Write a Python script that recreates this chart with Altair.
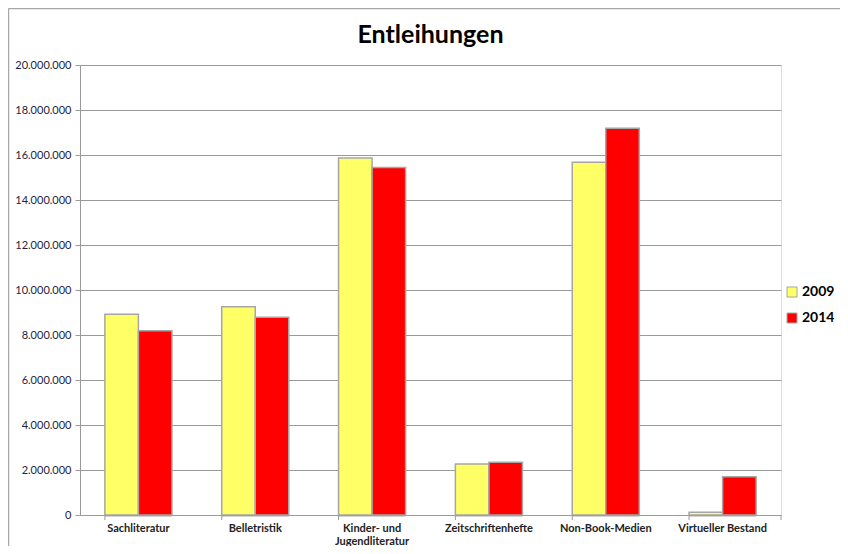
import altair as alt
import pandas as pd

title_text = "Entleihungen"
categories = ["Sachliteratur", "Belletristik", "Kinder- und Jugendliteratur",
              "Zeitschriftenhefte", "Non-Book-Medien", "Virtueller Bestand"]
years = ["2009", "2014"]
values_2009 = [8920000, 9260000, 15870000, 2270000, 15680000, 120000]
values_2014 = [8190000, 8790000, 15440000, 2340000, 17190000, 1700000]
y_ticks = [0, 2000000, 4000000, 6000000, 8000000, 10000000, 12000000,
           14000000, 16000000, 18000000, 20000000]

rows = []
for c, a, b in zip(categories, values_2009, values_2014):
    rows.append({"cat": c, "year": "2009", "value": a})
    rows.append({"cat": c, "year": "2014", "value": b})
df = pd.DataFrame(rows)

W, H = 701, 450
FONT = "Lato"

xscale = alt.Scale(domain=categories, paddingInner=0.426, paddingOuter=0.213)
yscale = alt.Scale(domain=[0, 20000000])

x_enc = alt.X("cat:N", sort=categories, scale=xscale, title=None,
              axis=alt.Axis(labelAngle=0, ticks=False, domain=True, domainColor="#9a9a9a",
                            labelFont=FONT, labelFontSize=11, labelFontWeight="bold",
                            labelColor="#222222", labelPadding=7, labelLineHeight=13,
                            labelExpr="datum.label == 'Kinder- und Jugendliteratur' ? ['Kinder- und', 'Jugendliteratur'] : datum.label"))
y_enc = alt.Y("value:Q", scale=yscale, title=None,
              axis=alt.Axis(values=y_ticks, grid=True, gridColor="#9a9a9a", gridWidth=1,
                            domainColor="#9a9a9a", tickColor="#9a9a9a", tickSize=5,
                            labelFont=FONT, labelFontSize=11, labelColor="#1f2340",
                            labelPadding=4,
                            labelExpr="join(split(format(datum.value, ','), ','), '.')"))

shadow = alt.Chart(df).mark_bar(color="#555555", opacity=0.25, xOffset=3, yOffset=2, y2Offset=0).encode(
    x=x_enc,
    xOffset=alt.XOffset("year:N", sort=years),
    y=y_enc,
)

bars = alt.Chart(df).mark_bar(stroke="#a6a6a6", strokeWidth=1.5).encode(
    x=x_enc,
    xOffset=alt.XOffset("year:N", sort=years),
    y=y_enc,
    color=alt.Color("year:N", sort=years,
                    scale=alt.Scale(domain=years, range=["#ffff66", "#ff0000"]),
                    legend=alt.Legend(title=None, orient="none", legendX=705, legendY=220,
                                      symbolType="square", symbolSize=100,
                                      symbolStrokeColor="#a6a6a6", symbolStrokeWidth=1,
                                      labelFont=FONT, labelFontSize=14, labelFontWeight="bold",
                                      labelColor="#000000", rowPadding=12, labelOffset=3)),
)

ticks = alt.Chart(pd.DataFrame({"cat": categories})).mark_rule(color="#9a9a9a").encode(
    x=alt.X("cat:N", sort=categories, scale=xscale, bandPosition=0),
    y=alt.value(H), y2=alt.value(H + 5),
)
one = pd.DataFrame({"t": [title_text]})
end_tick = alt.Chart(one).mark_rule(color="#9a9a9a").encode(
    x=alt.value(W), y=alt.value(H), y2=alt.value(H + 5),
)
frame_top = alt.Chart(one).mark_rule(color="#a8a8a8", strokeWidth=1.5).encode(
    x=alt.value(-71.5), x2=alt.value(800), y=alt.value(-56.5),
)
frame_left = alt.Chart(one).mark_rule(color="#a8a8a8", strokeWidth=1.5).encode(
    x=alt.value(-71.5), y=alt.value(-56.5), y2=alt.value(500),
)
title = alt.Chart(one).mark_text(font=FONT, fontSize=25, fontWeight="bold", color="#000000",
                                 align="center", baseline="middle").encode(
    text="t:N", x=alt.value(W / 2), y=alt.value(-30),
)

chart = alt.layer(frame_top, frame_left, shadow, bars, ticks, end_tick, title).properties(
    width=W, height=H,
    autosize=alt.AutoSizeParams(type="none"),
    padding={"left": 72, "top": 57, "right": 59, "bottom": 31},
).configure_view(stroke=None).configure(background="white")

chart.save("out.html", embed_options={"renderer": "svg", "actions": False})
